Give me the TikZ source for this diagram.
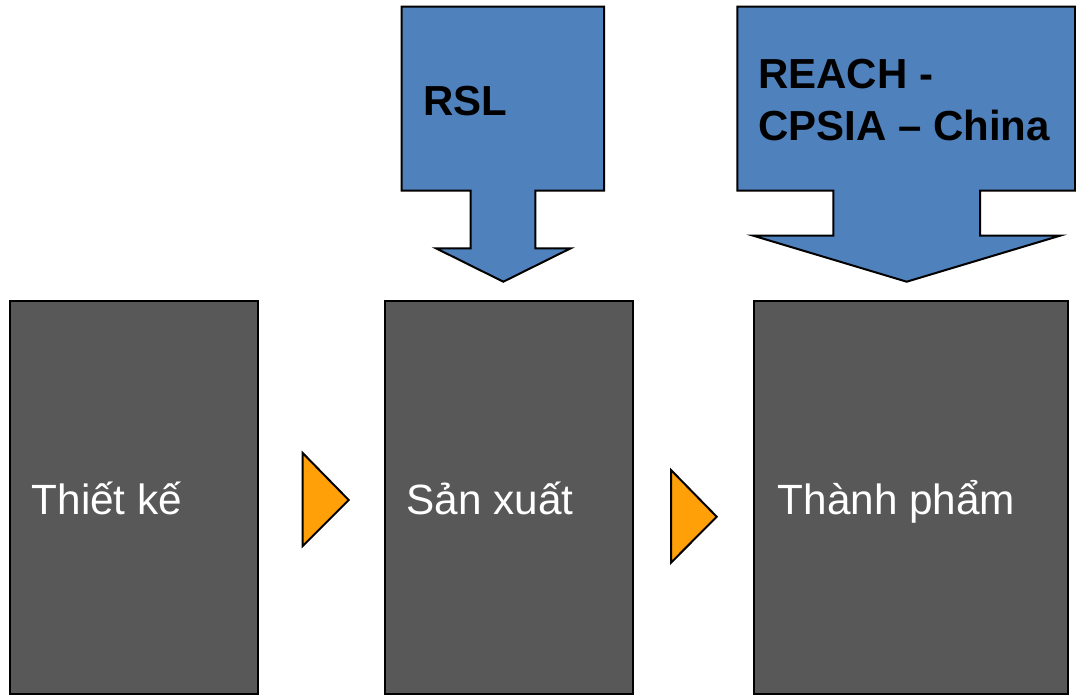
\documentclass[tikz,border=0pt]{standalone}
\usepackage{fontspec}
\setmainfont{Liberation Sans}
\definecolor{arrowblue}{RGB}{79,129,189}
\definecolor{boxgray}{RGB}{88,88,88}
\definecolor{triorange}{RGB}{255,160,8}
\tikzset{
  stagebox/.style={draw=black, line width=2pt, fill=boxgray},
  blockarrow/.style={draw=black, line width=2pt, fill=arrowblue, line join=miter},
  steptri/.style={draw=black, line width=2pt, fill=triorange, line join=miter},
  stagetext/.style={anchor=base west, inner sep=0pt, text=white, font=\fontsize{42.3}{50}\selectfont},
  labeltext/.style={anchor=base west, inner sep=0pt, text=black, align=left, font=\fontsize{42}{51.7}\selectfont\bfseries},
}
\begin{document}
\begin{tikzpicture}[x=1pt,y=-1pt]
\useasboundingbox (0,0) rectangle (1076,697);
% stage boxes
\draw[stagebox] (10,301) rectangle (258,694);
\draw[stagebox] (385,301) rectangle (633,694);
\draw[stagebox] (754,301) rectangle (1068,694);
\node[stagetext] (t1) at (31.5,514) {Thiết kế};
\node[stagetext] (t2) at (406.5,514.5) {Sản xuất};
\node[stagetext] (t3) at (777.5,514) {Thành phẩm};
% orange step triangles
\draw[steptri] (302.7,453) -- (348.7,500) -- (302.7,546) -- cycle;
\draw[steptri] (671,470) -- (716.7,516.7) -- (671,562.7) -- cycle;
% RSL block arrow
\draw[blockarrow] (401.7,6.7) -- (604,6.7) -- (604,190.7) -- (535.3,190.7) -- (535.3,248.3)
  -- (570.7,248.3) -- (503.3,281.7) -- (436,248.3) -- (470.7,248.3) -- (470.7,190.7)
  -- (401.7,190.7) -- cycle;
\node[labeltext] (rsl) at (423,115) {RSL};
% REACH block arrow
\draw[blockarrow] (737.3,6.7) -- (1075,6.7) -- (1075,190.7) -- (980,190.7) -- (980,235.7)
  -- (1060,235.7) -- (906.7,281.7) -- (753.3,235.7) -- (833.3,235.7) -- (833.3,190.7)
  -- (737.3,190.7) -- cycle;
\node[labeltext] (reach) at (758,140) {REACH -\\CPSIA – China};
\end{tikzpicture}
\end{document}
